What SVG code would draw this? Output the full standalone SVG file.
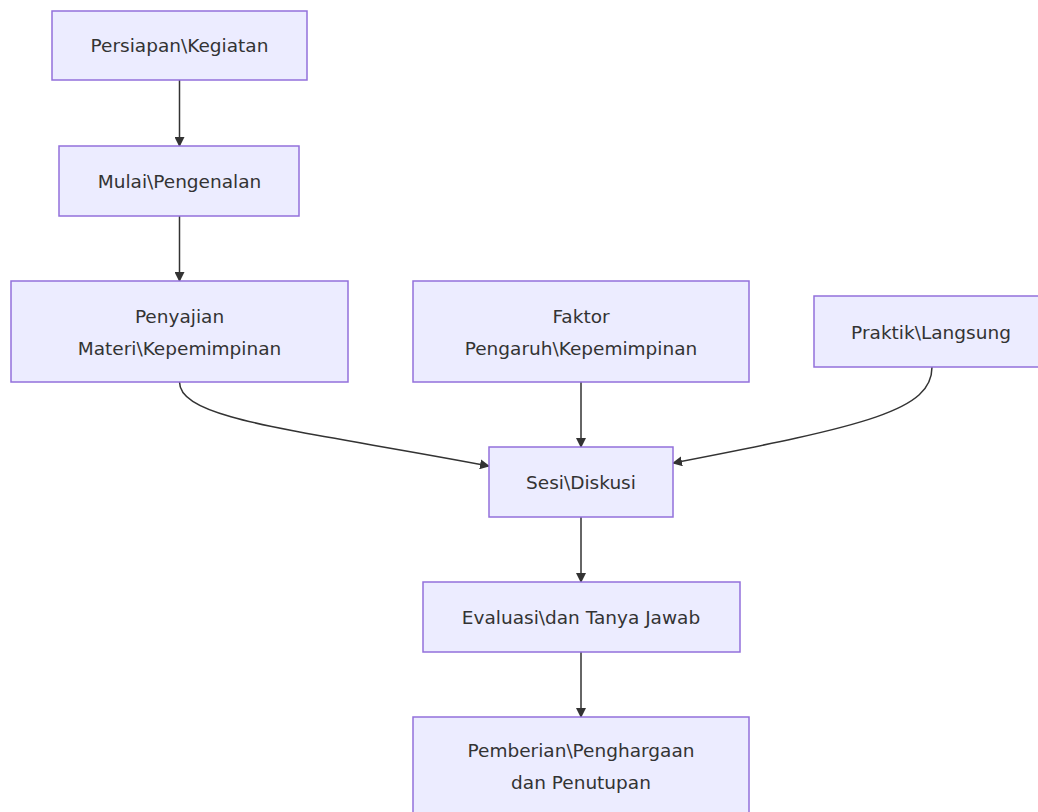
<svg xmlns="http://www.w3.org/2000/svg" width="1038" height="812" viewBox="0 0 1038 812">
<style>
.node rect{fill:#ECECFF;stroke:#9370DB;stroke-width:1.5}
.node text{font-family:"DejaVu Sans","Open Sans",sans-serif;font-size:18.5px;fill:#333;text-anchor:middle;dominant-baseline:central}
.edges path{fill:none;stroke:#333;stroke-width:1.5}
</style>
<defs>
<marker id="arrow" viewBox="0 0 10 10" refX="9" refY="5" markerWidth="10" markerHeight="10" markerUnits="userSpaceOnUse" orient="auto">
<path d="M0,0 L10,5 L0,10 z" fill="#333"/>
</marker>
</defs>
<rect width="1038" height="812" fill="#fff"/>
<g class="edges">
<path d="M179.5,80 V146" marker-end="url(#arrow)"/>
<path d="M179.5,216 V281" marker-end="url(#arrow)"/>
<path d="M179.5,382 C179.5,420 300,430 489,466" marker-end="url(#arrow)"/>
<path d="M581,382 V447" marker-end="url(#arrow)"/>
<path d="M932,367 C932,410 870,425 673,463" marker-end="url(#arrow)"/>
<path d="M581,517 V582" marker-end="url(#arrow)"/>
<path d="M581,652 V717" marker-end="url(#arrow)"/>
</g>
<g id="persiapan" class="node"><rect x="52" y="11" width="255" height="69"/><text x="179.5" y="45.5">Persiapan\Kegiatan</text></g>
<g id="mulai" class="node"><rect x="59" y="146" width="240" height="70"/><text x="179.5" y="181">Mulai\Pengenalan</text></g>
<g id="penyajian" class="node"><rect x="11" y="281" width="337" height="101"/><text x="179.5" y="316">Penyajian</text><text x="179.5" y="348">Materi\Kepemimpinan</text></g>
<g id="faktor" class="node"><rect x="413" y="281" width="336" height="101"/><text x="581" y="316">Faktor</text><text x="581" y="348">Pengaruh\Kepemimpinan</text></g>
<g id="praktik" class="node"><rect x="814" y="296" width="234" height="71"/><text x="931" y="332">Praktik\Langsung</text></g>
<g id="sesi" class="node"><rect x="489" y="447" width="184" height="70"/><text x="581" y="482">Sesi\Diskusi</text></g>
<g id="evaluasi" class="node"><rect x="423" y="582" width="317" height="70"/><text x="581" y="617">Evaluasi\dan Tanya Jawab</text></g>
<g id="pemberian" class="node"><rect x="413" y="717" width="336" height="101"/><text x="581" y="750">Pemberian\Penghargaan</text><text x="581" y="782">dan Penutupan</text></g>
</svg>
